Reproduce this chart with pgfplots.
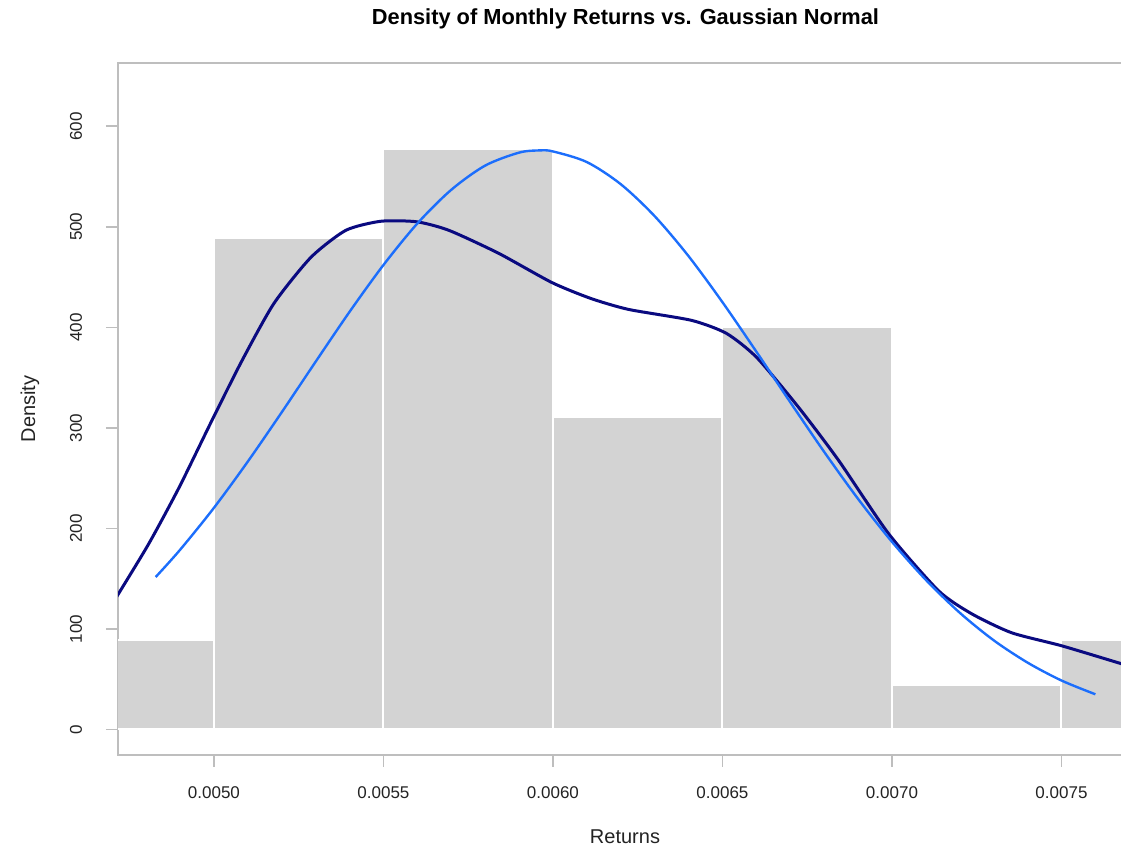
\documentclass[border=0pt]{standalone}
\usepackage{fontspec}
\setmainfont{Liberation Sans}
\usepackage{pgfplots}
\pgfplotsset{compat=1.18}
\definecolor{barfill}{RGB}{211,211,211}
\definecolor{axisgray}{RGB}{190,190,190}
\definecolor{kdenavy}{RGB}{10,10,128}
\definecolor{normblue}{RGB}{28,110,252}
\definecolor{txt}{RGB}{35,35,35}
\begin{document}
\begin{tikzpicture}
\begin{axis}[
  at={(59pt,47pt)}, anchor=south west,
  scale only axis, width=507.5pt, height=346pt,
  xmin=0.004717, xmax=0.007711,
  ymin=-25.5, ymax=663,
  axis line style={axisgray, line width=0.8pt},
  tick align=outside, major tick length=6pt,
  tick style={axisgray, line width=0.8pt},
  xtick={0.005,0.0055,0.006,0.0065,0.007,0.0075},
  xticklabels={0.0050,0.0055,0.0060,0.0065,0.0070,0.0075},
  ytick={0,100,200,300,400,500,600},
  xtick pos=bottom, ytick pos=left,
  scaled x ticks=false,
  /pgf/number format/assume math mode=true,
  ticklabel style={font=\fontsize{8.5}{10}\selectfont, text=txt},
  xticklabel style={anchor=center, yshift=-13pt},
  yticklabel style={rotate=90, anchor=center, yshift=15pt},
  clip=true,
]
\addplot[ybar interval, fill=barfill, draw=white, line width=1pt] coordinates {
  (0.0045,88.89) (0.0050,488.89) (0.0055,577.78) (0.0060,311.11)
  (0.0065,400.00) (0.0070,44.44) (0.0075,88.89) (0.0080,0)
};
\addplot[kdenavy, line width=1.5pt, smooth, tension=0.4] coordinates {
  (0.004690,119.0) (0.004715,133.0) (0.004808,184.8) (0.004897,240.5)
  (0.004994,307.3) (0.005083,367.0) (0.005177,423.8) (0.005286,469.6)
  (0.005389,496.5) (0.005492,505.5) (0.005598,505.0) (0.005693,496.5)
  (0.005840,473.6) (0.005996,444.7) (0.006111,428.8) (0.006223,417.8)
  (0.006409,406.9) (0.006512,393.9) (0.006601,370.0) (0.006725,320.2)
  (0.006843,267.4) (0.006990,194.7) (0.007137,138.0) (0.007235,115.0)
  (0.007353,96.1) (0.007500,83.2) (0.007668,66.2) (0.007720,61.0)
};
\addplot[normblue, line width=1.2pt, smooth] coordinates {
  (0.004828,151.5) (0.0049,178.6) (0.0050,220.4) (0.0051,266.5)
  (0.0052,315.5) (0.0053,365.8) (0.0054,415.4) (0.0055,462.0)
  (0.0056,503.3) (0.0057,536.8) (0.0058,560.9) (0.0059,573.8)
  (0.00596,576.0) (0.0060,575.0) (0.0061,564.4) (0.0062,542.4)
  (0.0063,510.6) (0.0064,470.8) (0.0065,425.0) (0.0066,375.8)
  (0.0067,325.5) (0.0068,276.1) (0.0069,229.3) (0.0070,186.6)
  (0.0071,148.7) (0.0072,116.0) (0.0073,88.6) (0.0074,66.4)
  (0.0075,48.6) (0.0076,34.9)
};
\end{axis}
\node[anchor=base, font=\bfseries\fontsize{10.9}{13}\selectfont, text=black] at (312.75pt,412pt) {Density of Monthly Returns vs. Gaussian Normal};
\node[rotate=90, anchor=center, font=\fontsize{10}{12}\selectfont, text=txt] at (15pt,220pt) {Density};
\node[anchor=base, font=\fontsize{10}{12}\selectfont, text=txt] at (312.5pt,2.5pt) {Returns};
\pgfresetboundingbox
\path[use as bounding box] (0,0) rectangle (560.5pt,424.5pt);
\end{tikzpicture}
\end{document}
